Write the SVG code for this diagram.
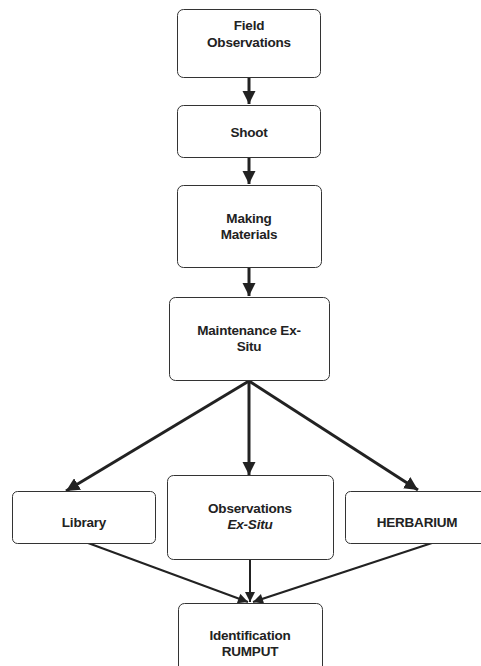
<svg xmlns="http://www.w3.org/2000/svg" width="481" height="666" viewBox="0 0 481 666">
<defs>
<style>
.box{fill:#fff;stroke:#333;stroke-width:1}
.t{font-family:"Liberation Sans",Arial,sans-serif;font-weight:bold;font-size:13.5px;fill:#222;text-anchor:middle;letter-spacing:-0.2px}
.c{stroke:#222;fill:none}
.thick{stroke-width:3}
.thin{stroke-width:2}
</style>
<marker id="ah" viewBox="0 0 10 10" refX="10" refY="5" markerWidth="4.5" markerHeight="4.5" orient="auto" markerUnits="strokeWidth"><path d="M0,0 L10,5 L0,10 z" fill="#222"/></marker>
<marker id="ah2" viewBox="0 0 10 10" refX="10" refY="5" markerWidth="6" markerHeight="5" orient="auto" markerUnits="strokeWidth"><path d="M0,0 L10,5 L0,10 z" fill="#222"/></marker>
</defs>
<g id="connectors">
<line class="c thick" x1="249" y1="78" x2="249" y2="104" marker-end="url(#ah)"/>
<line class="c thick" x1="249" y1="157" x2="249" y2="184" marker-end="url(#ah)"/>
<line class="c thick" x1="249" y1="267" x2="249" y2="296" marker-end="url(#ah)"/>
<line class="c thick" x1="249" y1="381" x2="66" y2="491" marker-end="url(#ah)"/>
<line class="c thick" x1="249" y1="381" x2="249" y2="475" marker-end="url(#ah)"/>
<line class="c thick" x1="249" y1="381" x2="418" y2="490" marker-end="url(#ah)"/>
<line class="c thin" x1="88" y1="543" x2="248" y2="602" marker-end="url(#ah2)"/>
<line class="c thin" x1="250" y1="559" x2="250" y2="602" marker-end="url(#ah2)"/>
<line class="c thin" x1="432" y1="543" x2="253" y2="602" marker-end="url(#ah2)"/>
</g>
<g id="field-observations">
<rect class="box" x="177.5" y="9.5" width="143" height="68" rx="6"/>
<text class="t" x="249" y="30">Field</text>
<text class="t" x="249" y="47">Observations</text>
</g>
<g id="shoot">
<rect class="box" x="177.5" y="105.5" width="143" height="52" rx="6"/>
<text class="t" x="249" y="137">Shoot</text>
</g>
<g id="making-materials">
<rect class="box" x="177.5" y="185.5" width="144" height="82" rx="6"/>
<text class="t" x="249" y="223">Making</text>
<text class="t" x="249" y="239">Materials</text>
</g>
<g id="maintenance">
<rect class="box" x="169.5" y="297.5" width="160" height="83" rx="6"/>
<text class="t" x="249" y="335">Maintenance Ex-</text>
<text class="t" x="249" y="351">Situ</text>
</g>
<g id="library">
<rect class="box" x="12.5" y="491.5" width="143" height="52" rx="5"/>
<text class="t" x="84" y="527">Library</text>
</g>
<g id="observations-ex-situ">
<rect class="box" x="167.5" y="475.5" width="166" height="84" rx="6"/>
<text class="t" x="250" y="513">Observations</text>
<text class="t" x="250" y="529" font-style="italic">Ex-Situ</text>
</g>
<g id="herbarium">
<rect class="box" x="345.5" y="491.5" width="150" height="52" rx="5"/>
<text class="t" x="417" y="527">HERBARIUM</text>
</g>
<g id="identification">
<rect class="box" x="178.5" y="603.5" width="144" height="80" rx="6"/>
<text class="t" x="250" y="640">Identification</text>
<text class="t" x="250" y="656">RUMPUT</text>
</g>
</svg>
